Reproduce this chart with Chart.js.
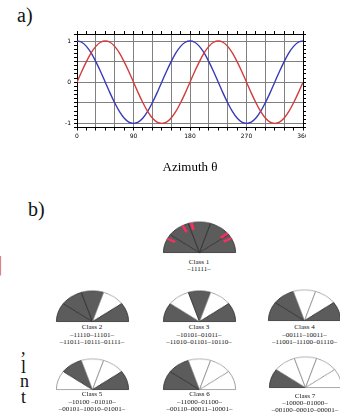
<!DOCTYPE html>
<html><head><meta charset="utf-8">
<script src="https://cdn.jsdelivr.net/npm/chart.js@4.4.1/dist/chart.umd.min.js"></script>
<style>
html,body{margin:0;padding:0;background:#fff;}
body{width:340px;height:415px;overflow:hidden;position:relative;font-family:'Liberation Serif',serif;color:#111;}
canvas{display:block;}
.abs{position:absolute;}
.panel{position:absolute;font-size:20px;line-height:20px;white-space:nowrap;}
.lbl{position:absolute;width:130px;text-align:center;font-size:7px;line-height:7.3px;white-space:nowrap;color:#111;}
.semi{position:absolute;}
.frag{position:absolute;font-size:18px;line-height:18px;color:#111;}
</style></head><body>
<div class="panel" style="left:17px;top:5px">a)</div>
<div class="panel" style="left:28px;top:199px">b)</div>
<div class="abs" style="left:0;top:0;width:340px;height:180px"><canvas id="lineChart" width="340" height="180"></canvas></div>
<div class="abs" style="left:306px;top:129px;width:34px;height:12px;background:#fff"></div>
<div class="frag" style="left:-5px;top:253px;font-size:23px;line-height:23px;color:#e07a3c">]</div>
<div class="frag" style="left:21px;top:339px">,</div>
<div class="frag" style="left:21px;top:358px">l</div>
<div class="frag" style="left:20px;top:372px">n</div>
<div class="frag" style="left:21px;top:388px">t</div>
<div id="panelB"></div>
<script>
// ---------- data: panel a ----------
const azimuth = [0,7.5,15,22.5,30,37.5,45,52.5,60,67.5,75,82.5,90,97.5,105,112.5,120,127.5,135,142.5,150,157.5,165,172.5,180,187.5,195,202.5,210,217.5,225,232.5,240,247.5,255,262.5,270,277.5,285,292.5,300,307.5,315,322.5,330,337.5,345,352.5,360];
const redSeries = [0,0.26,0.5,0.71,0.87,0.97,1,0.97,0.87,0.71,0.5,0.26,0,-0.26,-0.5,-0.71,-0.87,-0.97,-1,-0.97,-0.87,-0.71,-0.5,-0.26,0,0.26,0.5,0.71,0.87,0.97,1,0.97,0.87,0.71,0.5,0.26,0,-0.26,-0.5,-0.71,-0.87,-0.97,-1,-0.97,-0.87,-0.71,-0.5,-0.26,0];
const blueSeries = [1,0.97,0.87,0.71,0.5,0.26,0,-0.26,-0.5,-0.71,-0.87,-0.97,-1,-0.97,-0.87,-0.71,-0.5,-0.26,0,0.26,0.5,0.71,0.87,0.97,1,0.97,0.87,0.71,0.5,0.26,0,-0.26,-0.5,-0.71,-0.87,-0.97,-1,-0.97,-0.87,-0.71,-0.5,-0.26,0,0.26,0.5,0.71,0.87,0.97,1];
const xTickLabels = [0,90,180,270,360];
const yTickLabels = [-1,0,1];
const yGridValues = [-1,-0.5,0,0.5,1];
const xAxisTitle = 'Azimuth θ';

// ---------- data: panel b ----------
const classNames = ['Class 1','Class 2','Class 3','Class 4','Class 5','Class 6','Class 7'];
const classPattern = ['11111','11101','10101','11001','01001','11000','10000'];
const classCodeLines = [
  ['–11111–'],
  ['–11110–11101–','–11011–10111–01111–'],
  ['–10101–01011–','–11010–01101–10110–'],
  ['–00111–10011–','–11001–11100–01110–'],
  ['–10100 –01010–','–00101–10010–01001–'],
  ['–11000–01100–','–00110–00011–10001–'],
  ['–10000–01000–','–00100–00010–00001–']
];
const sectorSizes = [1,1,1,1,1];
const class1MarkAngles = [153,118,103,39,28];

// ---------- layout (positions only) ----------
const semiCx   = [199, 92, 199, 304.5, 92, 199.5, 305];
const semiBase = [253, 321.5, 321.5, 321, 389.5, 389.5, 387.5];
const labelTop = [259, 324.3, 324.3, 324.3, 391.4, 391.4, 392.8];

Chart.defaults.font.family = "'Liberation Serif', serif";
const near = (v, list) => list.some(t => Math.abs(v - t) < 1e-6);
const GRID = '#808080';
const tickFont = {size:6, family:"'DejaVu Sans', sans-serif"};

new Chart(document.getElementById('lineChart'), {
  type:'line',
  data:{datasets:[
    {data: azimuth.map((x,i)=>({x, y: redSeries[i]})), borderColor:'#d23c3c', borderWidth:1.4, pointRadius:0, cubicInterpolationMode:'monotone', fill:false},
    {data: azimuth.map((x,i)=>({x, y: blueSeries[i]})), borderColor:'#3a3ab8', borderWidth:1.4, pointRadius:0, cubicInterpolationMode:'monotone', fill:false}
  ]},
  options:{
    responsive:false, devicePixelRatio:1, animation:false, events:[],
    layout:{padding:{left:0, top:31, right:34, bottom:5}},
    plugins:{legend:{display:false}, tooltip:{enabled:false}},
    scales:{
      x:{type:'linear', position:'bottom', min:0, max:360,
        ticks:{stepSize:15, autoSkip:false, maxRotation:0, minRotation:0, padding:2, color:'#000', font:tickFont,
          callback:v => near(v, xTickLabels) ? String(v) : ''},
        grid:{color:c => (c.tick && near(c.tick.value % 30, [0])) ? GRID : 'rgba(0,0,0,0)', lineWidth:1, tickColor:'#000', tickLength:3},
        border:{display:true, color:'#000', width:1},
        title:{display:true, text:xAxisTitle, color:'#000', font:{size:13, family:"'Liberation Serif', serif"}, padding:{top:0, bottom:0}},
        afterFit:s => { s.height = 47.5; }
      },
      x2:{type:'linear', position:'top', min:0, max:360,
        ticks:{stepSize:15, autoSkip:false, display:false},
        grid:{drawOnChartArea:false, tickColor:'#000', tickLength:3},
        border:{display:true, color:'#000', width:1},
        afterFit:s => { s.height = 3; }
      },
      y:{type:'linear', position:'left', min:-1.1, max:1.17,
        ticks:{stepSize:0.1, autoSkip:false, padding:3, color:'#000', font:tickFont,
          callback:v => near(v, yTickLabels) ? String(Math.round(v)) : ''},
        grid:{color:c => (c.tick && near(c.tick.value, yGridValues)) ? GRID : 'rgba(0,0,0,0)', lineWidth:1, tickColor:'#000', tickLength:3},
        border:{display:true, color:'#000', width:1},
        afterFit:s => { s.width = 77; }
      },
      y2:{type:'linear', position:'right', min:-1.1, max:1.17,
        ticks:{stepSize:0.1, autoSkip:false, display:false},
        grid:{drawOnChartArea:false, tickColor:'#000', tickLength:3},
        border:{display:true, color:'#000', width:1},
        afterFit:s => { s.width = 3; }
      }
    }
  }
});

// ---------- panel b: semicircle pies ----------
const DARK = '#5c5c5c', LIGHT = '#ffffff', DARK_EDGE = '#2e2e2e', LIGHT_EDGE = '#8c8c8c';
const markPlugin = {
  id:'marks',
  afterDatasetsDraw(chart){
    const arc = chart.getDatasetMeta(0).data[0];
    const x = arc.x, y = arc.y, R = arc.outerRadius;
    const ctx = chart.ctx;
    ctx.save();
    ctx.strokeStyle = '#ff2d62';
    ctx.lineWidth = 2.7;
    class1MarkAngles.forEach(a => {
      const t = a * Math.PI / 180;
      ctx.beginPath();
      ctx.moveTo(x + 0.76*R*Math.cos(t), y - 0.76*R*Math.sin(t));
      ctx.lineTo(x + 1.0*R*Math.cos(t), y - 1.0*R*Math.sin(t));
      ctx.stroke();
    });
    ctx.restore();
  }
};
const host = document.getElementById('panelB');
const W = 77, H = 40, CY = 38.75, FLAT = 0.85;
classNames.forEach((name, i) => {
  const wrap = document.createElement('div');
  wrap.className = 'semi';
  wrap.style.left = (semiCx[i] - W/2) + 'px';
  wrap.style.top = (semiBase[i] - CY) + 'px';
  wrap.style.width = W + 'px';
  wrap.style.height = H + 'px';
  wrap.style.transformOrigin = '50% ' + CY + 'px';
  wrap.style.transform = 'scaleY(' + FLAT + ')';
  const cv = document.createElement('canvas');
  cv.width = W; cv.height = H;
  wrap.appendChild(cv);
  host.appendChild(wrap);
  const bits = classPattern[i].split('');
  new Chart(cv, {
    type:'pie',
    data:{labels: sectorSizes.map((_,k)=>'s'+(k+1)), datasets:[{
      data: sectorSizes,
      backgroundColor: bits.map(b => b === '1' ? DARK : LIGHT),
      borderColor: bits.map(b => b === '1' ? DARK_EDGE : LIGHT_EDGE),
      borderWidth: 0.8, offset:0, hoverOffset:0,
      rotation:-90, circumference:180
    }]},
    options:{responsive:false, devicePixelRatio:1, animation:false, events:[],
      rotation:-90, circumference:180,
      layout:{padding:{left:2, right:2, top:2, bottom:1}},
      plugins:{legend:{display:false}, tooltip:{enabled:false}}},
    plugins: i === 0 ? [markPlugin] : []
  });
  const lbl = document.createElement('div');
  lbl.className = 'lbl';
  lbl.style.left = (semiCx[i] - 65) + 'px';
  lbl.style.top = labelTop[i] + 'px';
  [name].concat(classCodeLines[i]).forEach(line => {
    const d = document.createElement('div');
    d.textContent = line;
    lbl.appendChild(d);
  });
  host.appendChild(lbl);
});
</script>
</body></html>
